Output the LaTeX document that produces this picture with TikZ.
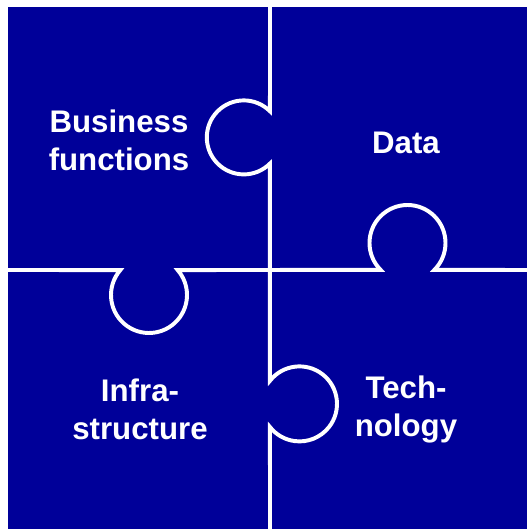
\documentclass[tikz,border=0pt]{standalone}
\usepackage{fontspec}
\setmainfont{Liberation Sans}
\usetikzlibrary{calc}
\definecolor{puzzleblue}{RGB}{0,0,153}
\tikzset{
  piece/.style = {fill=puzzleblue, draw=none},
  seam/.style  = {draw=white, line width=2.8pt},
  lbl/.style   = {text=white, align=center, inner sep=0pt,
                  font=\bfseries\fontsize{22.2}{27}\selectfont},
}

\begin{document}
\begin{tikzpicture}[x=0.025cm,y=0.025cm]
  \useasboundingbox (0,0) rectangle (527,529);
  \fill[piece] (8,0) rectangle (527,522);
  % knob centres
  \coordinate (kbiz)   at (243.8,391.6);
  \coordinate (ktech)  at (299.5,125.1);
  \coordinate (kinfra) at (149,234);
  \coordinate (kdata)  at (407.5,286);
  % seams between the pieces
  \draw[seam] (270,522) -- ($(kbiz)+(45:37)$)
    arc[start angle=45,end angle=315,radius=37]
    -- ($(ktech)+(142:37.5)$)
    arc[start angle=142,end angle=-142,radius=37.5] -- (270,0);
  \draw[seam] (8,259) -- ($(kinfra)+(139:38)$)
    arc[start angle=139,end angle=401,radius=38]
    -- ($(kdata)+(225:38)$)
    arc[start angle=225,end angle=-45,radius=38] -- (527,259);
  \node[lbl] (biz)   at (119,389)   {Business\\functions};
  \node[lbl] (data)  at (406,386.5) {Data};
  \node[lbl] (infra) at (140,120)   {Infra-\\structure};
  \node[lbl] (tech)  at (406,119.5) {Tech-\\nology};
\end{tikzpicture}
\end{document}
